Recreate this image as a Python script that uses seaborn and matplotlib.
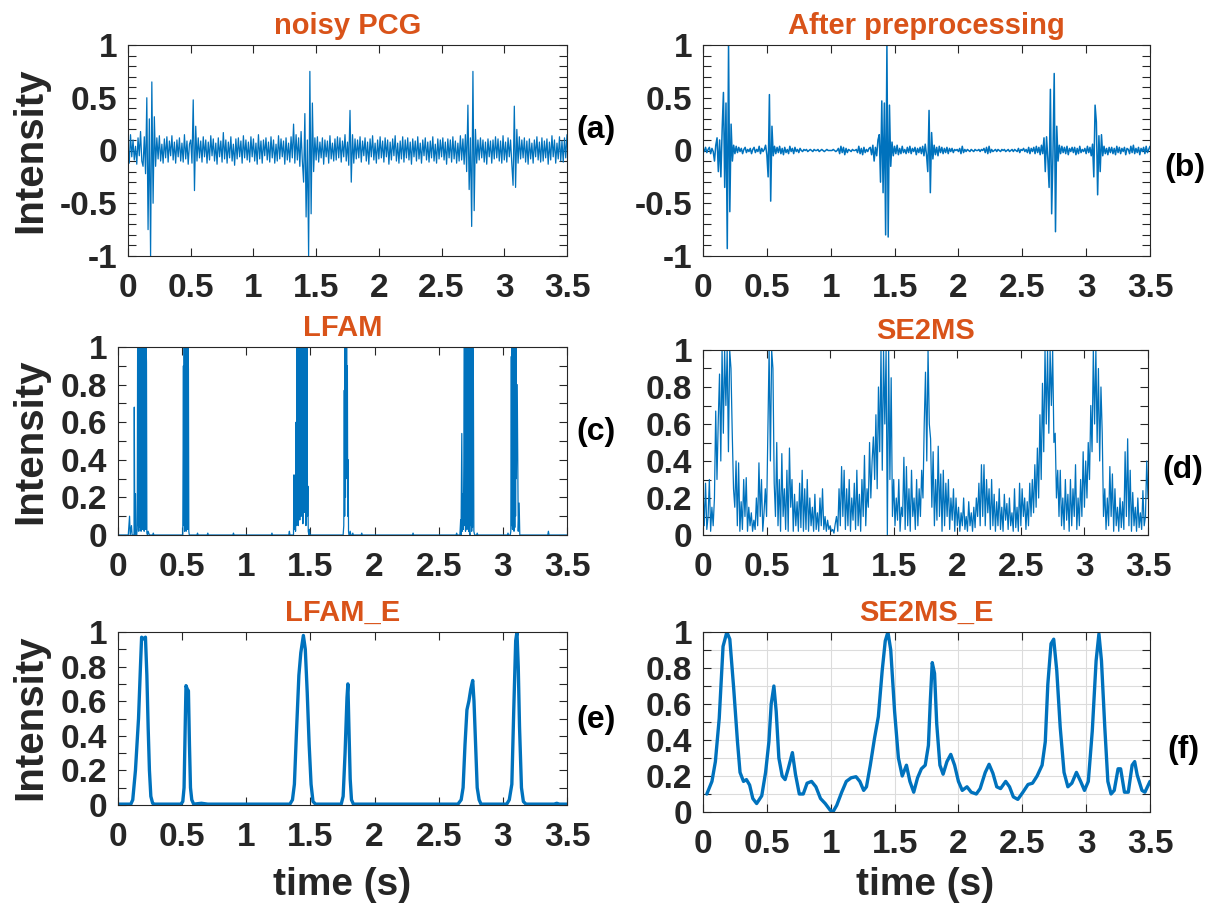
import numpy as np
import pandas as pd
import matplotlib
matplotlib.use("Agg")
import matplotlib.pyplot as plt
import seaborn as sns
from matplotlib.ticker import FixedLocator, FuncFormatter

# ---------------- data ----------------
DT = 0.01  # sampling step of the uniformly sampled traces (s)

noisy_pcg = [
    0.05, -0.12, 0.15, -0.06, 0.10, -0.09, 0.04, -0.13, 0.12, -0.05,
    0.18, -0.10, -0.15, 0.13, -0.22, 0.50, -0.75, 0.30, -1.00, 0.65,
    -0.50, 0.32, -0.15, 0.12, -0.08, 0.14, -0.10, 0.06, -0.12, 0.11,
    -0.07, 0.13, -0.11, 0.09, -0.05, 0.14, -0.09, 0.08, -0.12, 0.10,
    -0.06, 0.12, -0.10, 0.07, -0.11, 0.15, -0.08, 0.09, -0.13, 0.06,
    0.10, -0.12, 0.48, -0.38, 0.23, -0.10, 0.12, -0.07, 0.09, -0.11,
    0.13, -0.06, 0.10, -0.12, 0.08, -0.09, 0.14, -0.05, 0.11, -0.10,
    0.07, -0.13, 0.12, -0.06, 0.09, -0.11, 0.17, -0.08, 0.10, -0.12,
    0.08, -0.07, 0.13, -0.10, 0.06, -0.14, 0.11, -0.08, 0.12, -0.06,
    0.09, -0.12, 0.14, -0.07, 0.10, -0.09, 0.08, -0.11, 0.13, -0.06,
    0.11, -0.10, 0.07, -0.13, 0.15, -0.08, 0.09, -0.12, 0.10, -0.05,
    0.12, -0.09, 0.08, -0.11, 0.13, -0.07, 0.10, -0.12, 0.06, -0.10,
    0.14, -0.08, 0.11, -0.06, 0.09, -0.13, 0.12, -0.09, 0.07, -0.11,
    0.13, -0.07, 0.25, -0.12, 0.15, -0.09, 0.12, -0.15, 0.18, -0.10,
    -0.30, 0.35, -0.63, 0.10, -1.00, 0.75, -0.60, 0.45, -0.20, 0.12,
    -0.09, 0.13, -0.11, 0.08, -0.07, 0.12, -0.13, 0.10, -0.06, 0.09,
    -0.12, 0.14, -0.08, 0.07, -0.10, 0.11, -0.09, 0.13, -0.07, 0.12,
    -0.11, 0.09, -0.06, 0.15, -0.10, 0.08, -0.14, 0.38, -0.30, 0.15,
    -0.12, 0.11, -0.08, 0.10, -0.07, 0.13, -0.11, 0.09, -0.05, 0.12,
    -0.10, 0.08, -0.13, 0.11, -0.06, 0.14, -0.09, 0.07, -0.12, 0.10,
    -0.08, 0.13, -0.07, 0.09, -0.11, 0.12, -0.06, 0.10, -0.13, 0.08,
    -0.09, 0.11, -0.05, 0.14, -0.10, 0.07, -0.12, 0.09, -0.08, 0.13,
    -0.11, 0.10, -0.07, 0.12, -0.09, 0.08, -0.13, 0.11, -0.06, 0.09,
    -0.10, 0.13, -0.08, 0.07, -0.12, 0.10, -0.05, 0.12, -0.09, 0.08,
    -0.11, 0.09, -0.07, 0.13, -0.10, 0.06, -0.12, 0.11, -0.08, 0.10,
    -0.06, 0.12, -0.09, 0.08, -0.13, 0.11, -0.07, 0.10, -0.11, 0.13,
    -0.08, 0.09, -0.12, 0.07, -0.10, 0.14, -0.09, 0.11, -0.13, 0.15,
    -0.20, 0.43, -0.37, 0.12, -0.72, 0.75, -0.57, 0.20, -0.12, 0.10,
    -0.09, 0.12, -0.07, 0.10, -0.11, 0.08, -0.13, 0.11, -0.06, 0.09,
    -0.12, 0.10, -0.08, 0.13, -0.07, 0.11, -0.10, 0.09, -0.12, 0.14,
    -0.09, 0.08, -0.11, 0.12, -0.06, 0.10, -0.13, -0.33, 0.42, -0.35,
    0.20, -0.12, 0.13, -0.08, 0.10, -0.07, 0.12, -0.11, 0.09, -0.13,
    0.11, -0.08, 0.07, -0.12, 0.10, -0.06, 0.13, -0.09, 0.08, -0.11,
    0.12, -0.10, 0.09, -0.07, 0.11, -0.13, 0.08, -0.09, 0.14, -0.06,
    0.10, -0.12, 0.07, -0.08, 0.13, -0.10, 0.09, -0.11, 0.12, -0.07,
    0.15,
]

after_preprocessing = [
    0.02, -0.01, 0.03, -0.02, 0.01, 0.03, -0.03, 0.02, -0.01, -0.10,
    0.05, 0.12, -0.20, 0.10, -0.25, 0.20, 0.55, -0.35, 0.45, -0.93,
    1.00, -0.58, 0.25, -0.10, 0.05, -0.03, 0.04, -0.02, 0.03, -0.01,
    0.02, -0.03, 0.01, 0.03, -0.02, 0.01, -0.01, 0.02, -0.03, 0.01,
    0.03, -0.02, 0.01, -0.01, 0.04, -0.03, 0.02, -0.01, 0.01, 0.05,
    -0.04, -0.25, 0.53, -0.48, 0.23, -0.05, 0.04, -0.03, 0.03, -0.02,
    0.04, -0.03, 0.02, -0.04, 0.03, -0.02, 0.01, -0.03, 0.04, -0.01,
    0.02, -0.03, 0.03, -0.01, 0.01, -0.02, 0.02, 0.00, -0.01, 0.01,
    0.00, 0.01, -0.01, 0.00, 0.01, 0.00, -0.01, 0.01, 0.00, 0.00,
    0.01, -0.01, 0.00, 0.01, 0.00, -0.01, 0.00, 0.01, 0.00, 0.00,
    0.00, 0.00, 0.01, 0.00, -0.01, 0.00, 0.02, -0.03, 0.04, -0.02,
    0.03, -0.04, 0.02, -0.02, 0.01, 0.00, -0.01, 0.01, 0.00, 0.00,
    0.01, -0.02, 0.04, -0.03, 0.02, -0.04, 0.03, -0.02, 0.01, -0.01,
    0.02, 0.03, -0.04, 0.05, -0.10, 0.03, -0.05, 0.10, 0.15, -0.30,
    0.47, -0.40, 0.45, -0.80, 1.00, -0.82, 0.43, -0.15, 0.08, -0.05,
    0.04, -0.03, 0.05, -0.04, 0.02, -0.03, 0.04, -0.02, 0.01, -0.03,
    0.03, -0.02, 0.04, -0.03, 0.02, -0.01, 0.03, -0.04, 0.02, -0.02,
    0.03, -0.03, 0.04, -0.05, 0.06, -0.04, -0.20, 0.38, -0.40, 0.17,
    -0.08, 0.05, -0.04, 0.03, -0.05, 0.04, -0.02, 0.03, -0.03, 0.02,
    -0.02, 0.03, -0.03, 0.02, -0.01, 0.02, -0.02, 0.01, 0.00, 0.01,
    -0.01, 0.02, -0.03, 0.04, -0.02, 0.01, -0.01, 0.01, 0.00, -0.01,
    0.01, 0.00, -0.01, 0.01, 0.00, 0.00, 0.01, -0.01, 0.01, 0.00,
    0.02, -0.02, 0.03, -0.03, 0.04, -0.02, 0.01, -0.01, 0.00, 0.01,
    -0.01, 0.01, 0.00, -0.01, 0.01, 0.00, 0.01, -0.01, 0.00, 0.01,
    -0.01, 0.00, 0.01, -0.01, 0.01, 0.00, -0.01, 0.02, -0.02, 0.01,
    0.00, 0.02, -0.01, 0.01, -0.02, 0.03, -0.03, 0.02, -0.01, 0.03,
    -0.03, 0.04, -0.02, 0.03, -0.04, 0.05, -0.03, 0.12, -0.20, 0.13,
    -0.08, -0.35, 0.58, -0.60, -0.05, 0.73, -0.77, 0.23, -0.10, 0.05,
    -0.03, 0.04, -0.02, 0.03, -0.03, 0.04, -0.04, 0.02, -0.01, 0.03,
    -0.02, 0.03, -0.04, 0.02, -0.03, 0.04, -0.02, 0.01, -0.01, 0.02,
    -0.03, 0.04, -0.02, 0.03, -0.05, 0.06, -0.25, 0.43, 0.27, -0.42,
    0.14, -0.20, 0.15, -0.05, 0.04, -0.03, 0.02, -0.04, 0.03, -0.02,
    0.03, -0.03, 0.02, -0.04, 0.04, -0.02, 0.03, -0.03, 0.02, -0.01,
    0.03, -0.04, 0.02, 0.01, -0.03, 0.04, -0.02, 0.05, -0.03, 0.02,
    -0.02, 0.03, -0.04, 0.02, -0.01, 0.03, -0.03, 0.04, -0.02, 0.01,
    0.04,
]

se2ms = [
    0.25, 0.05, 0.28, 0.03, 0.10, 0.30, 0.02, 0.15, 0.05, 0.20,
    0.67, 0.30, 0.62, 0.87, 0.40, 1.00, 0.55, 1.00, 0.70, 1.00,
    0.45, 1.00, 0.90, 0.55, 0.25, 0.15, 0.40, 0.05, 0.39, 0.02,
    0.18, 0.03, 0.30, 0.10, 0.31, 0.02, 0.15, 0.05, 0.12, 0.02,
    0.08, 0.03, 0.20, 0.05, 0.39, 0.10, 0.30, 0.02, 0.12, 0.25,
    0.10, 0.55, 1.00, 0.40, 1.00, 0.90, 0.28, 0.10, 0.50, 0.05,
    0.30, 0.02, 0.44, 0.10, 0.25, 0.03, 0.35, 0.02, 0.47, 0.15,
    0.30, 0.02, 0.22, 0.05, 0.18, 0.02, 0.28, 0.04, 0.35, 0.02,
    0.25, 0.03, 0.30, 0.02, 0.20, 0.05, 0.15, 0.02, 0.22, 0.03,
    0.12, 0.02, 0.20, 0.05, 0.25, 0.03, 0.10, 0.02, 0.08, 0.03,
    0.05, 0.02, 0.03, 0.01, 0.06, 0.10, 0.02, 0.25, 0.05, 0.37,
    0.10, 0.35, 0.03, 0.25, 0.05, 0.30, 0.02, 0.20, 0.08, 0.28,
    0.03, 0.35, 0.05, 0.22, 0.02, 0.30, 0.10, 0.43, 0.05, 0.25,
    0.15, 0.50, 0.20, 0.40, 0.53, 0.30, 0.65, 0.25, 0.80, 0.45,
    1.00, 0.35, 1.00, 0.60, 1.00, 0.00, 1.00, 0.30, 0.85, 0.10,
    0.30, 0.05, 0.20, 0.08, 0.30, 0.02, 0.15, 0.10, 0.42, 0.03,
    0.37, 0.05, 0.25, 0.02, 0.35, 0.10, 0.20, 0.03, 0.30, 0.05,
    0.25, 0.10, 0.35, 0.20, 0.60, 0.88, 0.40, 1.00, 0.60, 0.52,
    0.15, 0.45, 0.05, 0.30, 0.08, 0.48, 0.10, 0.33, 0.02, 0.35,
    0.05, 0.28, 0.10, 0.30, 0.03, 0.20, 0.08, 0.25, 0.02, 0.20,
    0.05, 0.15, 0.02, 0.12, 0.05, 0.20, 0.03, 0.10, 0.02, 0.18,
    0.05, 0.12, 0.02, 0.15, 0.04, 0.20, 0.10, 0.28, 0.05, 0.38,
    0.10, 0.38, 0.05, 0.30, 0.12, 0.25, 0.03, 0.30, 0.05, 0.22,
    0.02, 0.18, 0.05, 0.25, 0.03, 0.15, 0.02, 0.22, 0.08, 0.17,
    0.03, 0.20, 0.05, 0.12, 0.02, 0.25, 0.04, 0.15, 0.02, 0.28,
    0.05, 0.25, 0.10, 0.20, 0.03, 0.18, 0.05, 0.28, 0.10, 0.30,
    0.12, 0.38, 0.15, 0.47, 0.20, 0.65, 0.30, 0.82, 0.45, 1.00,
    0.60, 1.00, 0.55, 1.00, 0.70, 1.00, 0.50, 0.55, 0.20, 0.35,
    0.10, 0.35, 0.05, 0.20, 0.03, 0.30, 0.08, 0.22, 0.02, 0.30,
    0.05, 0.25, 0.10, 0.38, 0.03, 0.20, 0.05, 0.30, 0.10, 0.45,
    0.15, 0.40, 0.20, 0.50, 0.30, 0.70, 0.45, 1.00, 0.60, 1.00,
    0.50, 0.90, 0.40, 0.80, 0.55, 0.10, 0.25, 0.03, 0.20, 0.05,
    0.37, 0.10, 0.33, 0.02, 0.25, 0.05, 0.15, 0.02, 0.20, 0.04,
    0.18, 0.03, 0.45, 0.10, 0.52, 0.05, 0.35, 0.02, 0.23, 0.05,
    0.15, 0.02, 0.20, 0.04, 0.12, 0.03, 0.24, 0.05, 0.10, 0.40,
    0.20,
]

lfam_t = [
    0.000, 0.080, 0.090, 0.095, 0.105, 0.110, 0.125, 0.127, 0.131, 0.136, 0.140, 0.145,
    0.150, 0.153, 0.156, 0.159, 0.162, 0.165, 0.168, 0.171, 0.174, 0.177, 0.180, 0.183,
    0.186, 0.189, 0.192, 0.195, 0.198, 0.201, 0.204, 0.207, 0.210, 0.213, 0.216, 0.219,
    0.222, 0.225, 0.230, 0.235, 0.245, 0.250, 0.270, 0.275, 0.280,
    0.505, 0.510, 0.513, 0.516, 0.519, 0.522, 0.525, 0.528, 0.531, 0.534, 0.537, 0.540,
    0.543, 0.546, 0.549, 0.552, 0.556, 0.615, 0.620, 0.625, 0.695, 0.700, 0.705,
    0.895, 0.900, 0.905, 1.195, 1.200, 1.205,
    1.331, 1.336, 1.340, 1.345, 1.368, 1.372, 1.376, 1.380, 1.384, 1.388, 1.392,
    1.396, 1.399, 1.402, 1.405, 1.408, 1.411, 1.414, 1.417, 1.420, 1.423, 1.426, 1.429,
    1.432, 1.435, 1.438, 1.441, 1.444, 1.447, 1.450, 1.453, 1.456, 1.459, 1.462, 1.465,
    1.468, 1.471, 1.474, 1.477, 1.480, 1.483, 1.488, 1.492, 1.497,
    1.755, 1.760, 1.764, 1.767, 1.770, 1.773, 1.776, 1.779, 1.782, 1.785, 1.788, 1.791,
    1.794, 1.797, 1.800, 1.805, 1.810, 1.815, 1.825, 1.830, 1.835, 1.895, 1.900, 1.905,
    2.295, 2.300, 2.305, 2.635, 2.640, 2.645, 2.665, 2.671, 2.674, 2.680, 2.684, 2.688,
    2.692, 2.696,
    2.700, 2.703, 2.706, 2.709, 2.712, 2.715, 2.718, 2.721, 2.724, 2.727, 2.730, 2.733,
    2.736, 2.740, 2.744, 2.748, 2.751, 2.754, 2.757, 2.760, 2.763, 2.766, 2.770, 2.774,
    2.780, 2.795, 2.800, 2.805,
    3.035, 3.040, 3.045, 3.058, 3.062, 3.066, 3.069, 3.072, 3.075, 3.078, 3.081, 3.084,
    3.087, 3.090, 3.093, 3.096, 3.099, 3.102, 3.105, 3.112, 3.120, 3.127, 3.132,
    3.350, 3.355, 3.360, 3.500,
]
lfam = [
    0.00, 0.00, 0.10, 0.00, 0.05, 0.00, 0.00, 0.68, 0.00, 0.22, 0.02, 0.00,
    0.03, 1.00, 0.05, 1.00, 0.02, 1.00, 0.10, 1.00, 0.04, 1.00, 0.02, 1.00,
    0.06, 1.00, 0.03, 1.00, 0.05, 1.00, 0.02, 1.00, 0.08, 1.00, 0.03, 1.00,
    0.92, 0.01, 0.00, 0.02, 0.00, 0.00, 0.00, 0.01, 0.00,
    0.00, 0.90, 0.05, 1.00, 0.02, 1.00, 0.04, 1.00, 0.02, 1.00, 0.06, 1.00,
    0.03, 1.00, 0.88, 0.02, 0.00, 0.00, 0.01, 0.00, 0.00, 0.01, 0.00,
    0.00, 0.01, 0.00, 0.00, 0.01, 0.00,
    0.00, 0.02, 0.00, 0.00, 0.00, 0.32, 0.03, 0.16, 0.02, 0.60, 0.05,
    1.00, 0.10, 1.00, 0.05, 1.00, 0.30, 1.00, 0.08, 1.00, 0.40, 1.00, 0.10,
    1.00, 0.25, 1.00, 0.06, 1.00, 0.50, 1.00, 0.12, 1.00, 0.30, 1.00, 0.05,
    1.00, 0.20, 1.00, 0.10, 0.26, 0.02, 0.00, 0.03, 0.00,
    0.00, 0.05, 0.77, 0.10, 1.00, 0.20, 1.00, 0.30, 1.00, 0.50, 0.90, 0.10,
    0.40, 0.02, 0.00, 0.00, 0.02, 0.00, 0.00, 0.01, 0.00, 0.00, 0.01, 0.00,
    0.00, 0.01, 0.00, 0.00, 0.01, 0.00, 0.00, 0.08, 0.00, 0.54, 0.02, 0.22,
    0.03, 0.40,
    1.00, 0.05, 1.00, 0.02, 1.00, 0.08, 1.00, 0.03, 1.00, 0.05, 1.00, 0.02,
    1.00, 0.01, 0.00, 1.00, 0.05, 1.00, 0.02, 1.00, 0.04, 1.00, 0.87, 0.02,
    0.00, 0.00, 0.01, 0.00,
    0.00, 0.01, 0.00, 0.00, 0.02, 0.95, 0.05, 1.00, 0.03, 1.00, 0.06, 1.00,
    0.02, 1.00, 0.04, 1.00, 0.10, 1.00, 0.30, 0.80, 0.02, 0.17, 0.00,
    0.00, 0.02, 0.00, 0.00,
]

lfam_e_t = [
    0.000, 0.100, 0.115, 0.136, 0.160, 0.175, 0.184, 0.200, 0.214, 0.225, 0.235, 0.245,
    0.256, 0.270, 0.280, 0.490, 0.505, 0.515, 0.525, 0.530, 0.540, 0.549, 0.557, 0.565,
    0.575, 0.590, 0.650, 0.700, 1.340, 1.360, 1.375, 1.390, 1.410, 1.425, 1.445, 1.460,
    1.475, 1.490, 1.505, 1.520, 1.540, 1.740, 1.755, 1.770, 1.785, 1.792, 1.800, 1.810,
    1.820, 1.835, 2.650, 2.675, 2.690, 2.705, 2.720, 2.735, 2.750, 2.765, 2.775, 2.790,
    2.800, 2.815, 2.830, 3.030, 3.050, 3.070, 3.085, 3.100, 3.110, 3.120, 3.130, 3.145,
    3.160, 3.180, 3.400, 3.420, 3.440, 3.500,
]
lfam_e = [
    0.005, 0.005, 0.03, 0.20, 0.50, 0.80, 0.97, 0.96, 0.97, 0.75, 0.45, 0.20,
    0.05, 0.01, 0.005, 0.005, 0.02, 0.10, 0.50, 0.69, 0.67, 0.66, 0.35, 0.10,
    0.03, 0.005, 0.01, 0.005, 0.005, 0.03, 0.12, 0.40, 0.75, 0.88, 0.98, 0.90,
    0.65, 0.35, 0.12, 0.02, 0.005, 0.005, 0.05, 0.30, 0.62, 0.70, 0.45, 0.15,
    0.03, 0.005, 0.005, 0.03, 0.10, 0.35, 0.55, 0.60, 0.67, 0.72, 0.60, 0.30,
    0.10, 0.03, 0.005, 0.005, 0.03, 0.12, 0.55, 0.95, 1.00, 0.80, 0.45, 0.10,
    0.02, 0.005, 0.005, 0.01, 0.005, 0.005,
]

se2ms_e_t = [
    0.030, 0.070, 0.097, 0.127, 0.157, 0.187, 0.210, 0.240, 0.270, 0.290, 0.317, 0.340,
    0.365, 0.390, 0.420, 0.460, 0.490, 0.516, 0.534, 0.555, 0.573, 0.594, 0.620, 0.643,
    0.667, 0.700, 0.724, 0.754, 0.785, 0.815, 0.850, 0.884, 0.920, 0.957, 0.996, 1.017,
    1.047, 1.086, 1.122, 1.160, 1.198, 1.228, 1.258, 1.280, 1.310, 1.343, 1.373, 1.403,
    1.427, 1.448, 1.470, 1.500, 1.530, 1.560, 1.593, 1.620, 1.650, 1.680, 1.710, 1.740,
    1.765, 1.780, 1.795, 1.813, 1.830, 1.855, 1.880, 1.910, 1.940, 1.970, 2.000, 2.030,
    2.067, 2.100, 2.140, 2.170, 2.210, 2.240, 2.270, 2.300, 2.330, 2.370, 2.400, 2.430,
    2.465, 2.505, 2.545, 2.580, 2.616, 2.655, 2.680, 2.700, 2.725, 2.746, 2.770, 2.797,
    2.827, 2.857, 2.888, 2.924, 2.957, 2.987, 3.017, 3.048, 3.078, 3.100, 3.120, 3.146,
    3.170, 3.195, 3.220, 3.250, 3.270, 3.300, 3.330, 3.360, 3.380, 3.400, 3.437, 3.460,
    3.500,
]
se2ms_e = [
    0.10, 0.17, 0.28, 0.52, 0.92, 1.00, 0.96, 0.69, 0.39, 0.22, 0.17, 0.18,
    0.15, 0.075, 0.047, 0.09, 0.22, 0.39, 0.60, 0.70, 0.56, 0.30, 0.20, 0.18,
    0.24, 0.33, 0.21, 0.10, 0.10, 0.16, 0.17, 0.14, 0.075, 0.047, 0.01, 0.00,
    0.037, 0.11, 0.17, 0.19, 0.196, 0.17, 0.12, 0.14, 0.26, 0.41, 0.53, 0.785,
    0.95, 1.00, 0.90, 0.56, 0.30, 0.20, 0.26, 0.17, 0.11, 0.19, 0.24, 0.26,
    0.37, 0.62, 0.83, 0.77, 0.49, 0.26, 0.21, 0.28, 0.32, 0.26, 0.17, 0.12,
    0.14, 0.11, 0.10, 0.13, 0.22, 0.265, 0.215, 0.14, 0.13, 0.17, 0.14, 0.084,
    0.07, 0.11, 0.153, 0.16, 0.20, 0.26, 0.39, 0.71, 0.935, 0.96, 0.785, 0.47,
    0.22, 0.14, 0.16, 0.22, 0.17, 0.12, 0.17, 0.45, 0.84, 0.99, 0.84, 0.47,
    0.17, 0.10, 0.12, 0.24, 0.24, 0.11, 0.11, 0.26, 0.28, 0.205, 0.12, 0.11,
    0.17,
]

titles = ["noisy PCG", "After preprocessing", "LFAM", "SE2MS", "LFAM_E", "SE2MS_E"]
tags = ["(a)", "(b)", "(c)", "(d)", "(e)", "(f)"]
x_ticks = [0, 0.5, 1, 1.5, 2, 2.5, 3, 3.5]

# ---------------- style ----------------
sns.set_theme(style="ticks")
plt.rcParams["font.family"] = ["Liberation Sans", "DejaVu Sans"]
plt.rcParams["font.weight"] = "bold"
plt.rcParams["axes.unicode_minus"] = False

LINE = "#0072BD"
TITLE = "#D95319"
DARK = "#262626"

W, H = 1212, 917
fig = plt.figure(figsize=(W / 100, H / 100), dpi=100)
fig.patch.set_facecolor("white")


def box(l, t, r, b):
    return [l / W, 1 - b / H, (r - l) / W, (b - t) / H]


boxes = [
    box(128, 45, 567, 256),
    box(703, 45, 1150, 256),
    box(118, 347, 567, 535),
    box(703, 350, 1148, 535),
    box(118, 632, 567, 805),
    box(703, 632, 1150, 812),
]


def uniform_frame(vals):
    return pd.DataFrame({"t": np.arange(len(vals)) * DT, "v": vals})


frames = [
    uniform_frame(noisy_pcg),
    uniform_frame(after_preprocessing),
    pd.DataFrame({"t": lfam_t, "v": lfam}),
    uniform_frame(se2ms),
    pd.DataFrame({"t": lfam_e_t, "v": lfam_e}),
    pd.DataFrame({"t": se2ms_e_t, "v": se2ms_e}),
]
widths = [0.9, 1.1, 0.9, 0.9, 2.4, 2.4]

fmt = FuncFormatter(lambda v, p: f"{v:g}")

for i, (bx, df) in enumerate(zip(boxes, frames)):
    ax = fig.add_axes(bx)
    sns.lineplot(data=df, x="t", y="v", ax=ax, color=LINE, linewidth=widths[i],
                 estimator=None, sort=False)
    ax.set_xlim(0, 3.5)
    if i < 2:
        ax.set_ylim(-1, 1)
        ax.yaxis.set_major_locator(FixedLocator([-1, -0.5, 0, 0.5, 1]))
        ax.yaxis.set_minor_locator(FixedLocator(np.round(np.arange(-1, 1.01, 0.1), 2)))
    else:
        ax.set_ylim(0, 1)
        ax.yaxis.set_major_locator(FixedLocator([0, 0.2, 0.4, 0.6, 0.8, 1]))
        ax.yaxis.set_minor_locator(FixedLocator([0.1, 0.3, 0.5, 0.7, 0.9]))
    ax.xaxis.set_major_locator(FixedLocator(x_ticks))
    ax.xaxis.set_major_formatter(fmt)
    ax.yaxis.set_major_formatter(fmt)
    ax.set_xlabel("")
    ax.set_ylabel("")
    ax.tick_params(which="both", direction="in", top=True, right=True,
                   length=6, width=0.8, color=DARK)
    ax.tick_params(axis="x", which="major", labelsize=24, labelcolor=DARK, pad=12)
    ax.tick_params(axis="y", which="major", labelsize=24, labelcolor=DARK, pad=8)
    for s in ax.spines.values():
        s.set_visible(True)
        s.set_linewidth(0.8)
        s.set_color(DARK)
    ax.set_title(titles[i], color=TITLE, fontsize=21, fontweight="bold", pad=8)
    if i == 5:
        ax.grid(True, which="major", axis="x", color="#dcdcdc", linewidth=0.8)
        ax.grid(True, which="both", axis="y", color="#dcdcdc", linewidth=0.8)
        ax.set_axisbelow(True)

# y labels
for yc in [150, 441, 717]:
    fig.text(30 / W, 1 - yc / H, "Intensity", rotation=90, ha="center", va="center",
             fontsize=29, fontweight="bold", color=DARK)
# x labels
for xc in [342, 925]:
    fig.text(xc / W, 1 - 885 / H, "time (s)", ha="center", va="center",
             fontsize=28, fontweight="bold", color=DARK)
# panel tags
tag_pos = [(596, 130), (1185, 168), (596, 432), (1183, 470), (596, 720), (1183, 750)]
for tg, (px, py) in zip(tags, tag_pos):
    fig.text(px / W, 1 - py / H, tg, ha="center", va="center",
             fontsize=23, fontweight="bold", color="black")

fig.savefig("out.png", dpi=100, facecolor="white")
